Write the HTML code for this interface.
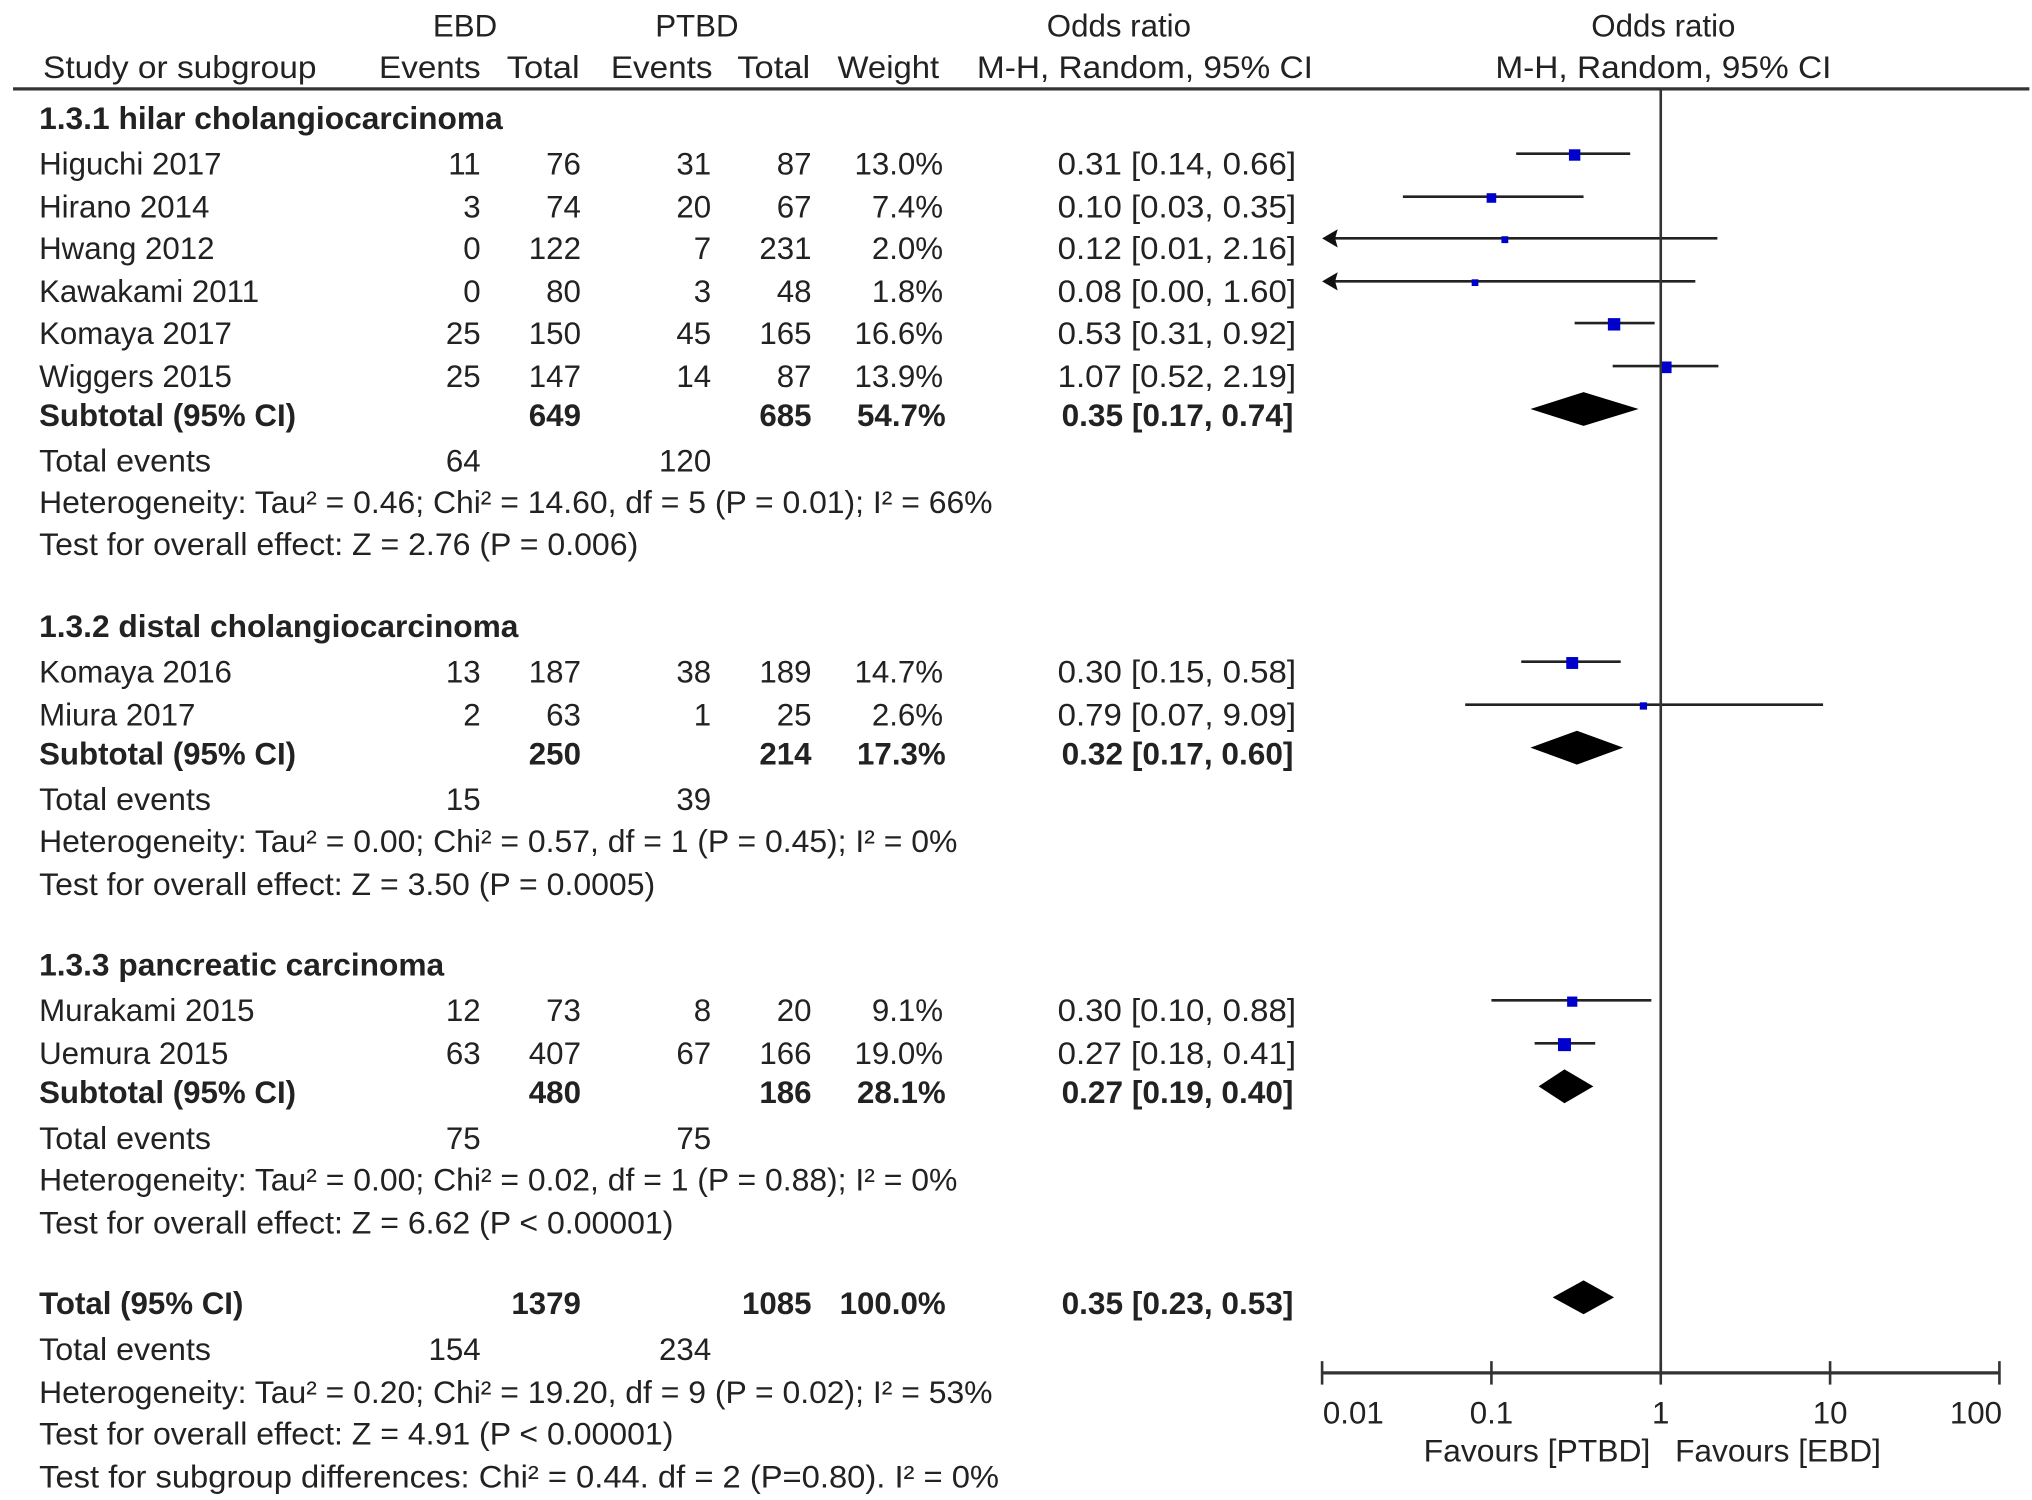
<!DOCTYPE html>
<html><head><meta charset="utf-8"><style>
html,body{margin:0;padding:0;background:#fff;}
svg{display:block;}
text{font-family:"Liberation Sans",Arial,sans-serif;font-size:24px;fill:#222;}
.b{font-weight:bold;}
</style></head><body>
<svg id="chart" width="2032" height="1500" viewBox="0 0 1560 1151.6" xmlns="http://www.w3.org/2000/svg">
<g id="txt"></g><g id="plot"></g>
</svg>
<script>
// ---- data ----
const studyNames=["Higuchi 2017","Hirano 2014","Hwang 2012","Kawakami 2011","Komaya 2017","Wiggers 2015","Komaya 2016","Miura 2017","Murakami 2015","Uemura 2015"];
const ebdEvents=[11,3,0,0,25,25,13,2,12,63];
const ebdTotal=[76,74,122,80,150,147,187,63,73,407];
const ptbdEvents=[31,20,7,3,45,14,38,1,8,67];
const ptbdTotal=[87,67,231,48,165,87,189,25,20,166];
const weights=[13.0,7.4,2.0,1.8,16.6,13.9,14.7,2.6,9.1,19.0];
const orVals=[0.31,0.10,0.12,0.08,0.53,1.07,0.30,0.79,0.30,0.27];
const ciLow=[0.14,0.03,0.01,0.00,0.31,0.52,0.15,0.07,0.10,0.18];
const ciHigh=[0.66,0.35,2.16,1.60,0.92,2.19,0.58,9.09,0.88,0.41];
const subNames=["Subtotal (95% CI)","Subtotal (95% CI)","Subtotal (95% CI)","Total (95% CI)"];
const subEbdTotal=[649,250,480,1379];
const subPtbdTotal=[685,214,186,1085];
const subWeight=["54.7%","17.3%","28.1%","100.0%"];
const subOr=[0.35,0.32,0.27,0.35];
const subLow=[0.17,0.17,0.19,0.23];
const subHigh=[0.74,0.60,0.40,0.53];
const tickVals=[0.01,0.1,1,10,100];
const tickLabels=["0.01","0.1","1","10","100"];
// ---- layout ----
const rowY=[126,159,191,224,256,289,516,549,776,809];
const subY=[319,579,839,1001];
const NS="http://www.w3.org/2000/svg";
const txt=document.getElementById('txt'), plot=document.getElementById('plot');
function T(x,y,s,anchor,bold,len,name){
  const t=document.createElementNS(NS,'text');
  t.setAttribute('x',x);t.setAttribute('y',y+8);
  if(anchor)t.setAttribute('text-anchor',anchor);
  if(bold)t.setAttribute('class','b');
  if(len){t.setAttribute('textLength',len);t.setAttribute('lengthAdjust','spacingAndGlyphs');}
  t.textContent=s;
  
  
  txt.appendChild(t);return t;
}
function E(tag,attrs,name,parent){
  const e=document.createElementNS(NS,tag);
  for(const k in attrs)e.setAttribute(k,attrs[k]);
  
  
  (parent||plot).appendChild(e);return e;
}
const f2=v=>v.toFixed(2);
const ciStr=(o,l,h)=>f2(o)+" ["+f2(l)+", "+f2(h)+"]";
// headers
T(357,20,"EBD","middle",0,0,"header-ebd");
T(535,20,"PTBD","middle",0,0,"header-ptbd");
T(859,20,"Odds ratio","middle",0,0,"header-odds-ratio");
T(1277,20,"Odds ratio","middle",0,0,"header-odds-ratio-plot");
T(33,52,"Study or subgroup","start",0,210,"header-study");
T(330,52,"Events","middle",0,78,"header-ebd-events");
T(417,52,"Total","middle",0,56,"header-ebd-total");
T(508,52,"Events","middle",0,78,"header-ptbd-events");
T(594,52,"Total","middle",0,56,"header-ptbd-total");
T(682,52,"Weight","middle",0,78,"header-weight");
T(879,52,"M-H, Random, 95% CI","middle",0,258,"header-ci");
T(1277,52,"M-H, Random, 95% CI","middle",0,258,"header-ci-plot");
E('rect',{x:10,y:67,width:1548,height:2.5,fill:'#333'},'header-rule');
// group headers and stats
T(30,91,"1.3.1 hilar cholangiocarcinoma","start",1,356,"group-header-hilar");
T(30,481,"1.3.2 distal cholangiocarcinoma","start",1,368,"group-header-distal");
T(30,741,"1.3.3 pancreatic carcinoma","start",1,311,"group-header-pancreatic");
const teY=[354,614,874,1036], teE=[64,15,75,154], teP=[120,39,75,234];
for(let i=0;i<4;i++){T(30,teY[i],"Total events","start",0,132,"total-events-label");T(369,teY[i],String(teE[i]),"end",0,0,"total-events-ebd");T(546,teY[i],String(teP[i]),"end",0,0,"total-events-ptbd");}
T(30,386,"Heterogeneity: Tau² = 0.46; Chi² = 14.60, df = 5 (P = 0.01); I² = 66%","start",0,732,"heterogeneity-hilar");
T(30,418,"Test for overall effect: Z = 2.76 (P = 0.006)","start",0,460,"overall-effect-hilar");
T(30,646,"Heterogeneity: Tau² = 0.00; Chi² = 0.57, df = 1 (P = 0.45); I² = 0%","start",0,705,"heterogeneity-distal");
T(30,679,"Test for overall effect: Z = 3.50 (P = 0.0005)","start",0,473,"overall-effect-distal");
T(30,906,"Heterogeneity: Tau² = 0.00; Chi² = 0.02, df = 1 (P = 0.88); I² = 0%","start",0,705,"heterogeneity-pancreatic");
T(30,939,"Test for overall effect: Z = 6.62 (P < 0.00001)","start",0,487,"overall-effect-pancreatic");
T(30,1069,"Heterogeneity: Tau² = 0.20; Chi² = 19.20, df = 9 (P = 0.02); I² = 53%","start",0,732,"heterogeneity-total");
T(30,1101,"Test for overall effect: Z = 4.91 (P < 0.00001)","start",0,487,"overall-effect-total");
T(30,1134,"Test for subgroup differences: Chi² = 0.44. df = 2 (P=0.80). I² = 0%","start",0,737,"subgroup-differences");
// axis scale
const X0=1275, DEC=130, XMIN=1015, XMAX=1535;
const xs=v=>X0+DEC*Math.log10(v);
// study rows
for(let i=0;i<studyNames.length;i++){
  const y=rowY[i];
  T(30,y,studyNames[i],"start",0,0,"study-name");
  T(369,y,String(ebdEvents[i]),"end",0,0,"ebd-events");
  T(446,y,String(ebdTotal[i]),"end",0,0,"ebd-total");
  T(546,y,String(ptbdEvents[i]),"end",0,0,"ptbd-events");
  T(623,y,String(ptbdTotal[i]),"end",0,0,"ptbd-total");
  T(724,y,weights[i].toFixed(1)+"%","end",0,0,"weight");
  T(995,y,ciStr(orVals[i],ciLow[i],ciHigh[i]),"end",0,183,"odds-ratio-ci");
  const ly=y-8;
  const lo=ciLow[i]>0?xs(ciLow[i]):-1e9;
  const clipped=lo<=XMIN+1;
  const x1=Math.max(lo,XMIN), x2=Math.min(xs(ciHigh[i]),XMAX);
  E('line',{x1:clipped?XMIN+4:x1,y1:ly,x2:x2,y2:ly,stroke:'#222','stroke-width':2},'ci-line');
  if(clipped){E('path',{d:`M${XMIN} ${ly} L${XMIN+12} ${ly-7} L${XMIN+10} ${ly} L${XMIN+12} ${ly+7}Z`,fill:'#111'},'ci-arrow');}
  const s=3+Math.sqrt(weights[i])*1.6;
  E('rect',{x:xs(orVals[i])-s/2,y:ly+1-s/2,width:s,height:s,fill:'#0000cc'},'study-square');
}
// subtotals
for(let i=0;i<4;i++){
  const y=subY[i];
  T(30,y,subNames[i],"start",1,0,i<3?"subtotal-label":"total-label");
  T(446,y,String(subEbdTotal[i]),"end",1,0,"subtotal-ebd-total");
  T(623,y,String(subPtbdTotal[i]),"end",1,0,"subtotal-ptbd-total");
  T(726,y,subWeight[i],"end",1,0,"subtotal-weight");
  T(993,y,ciStr(subOr[i],subLow[i],subHigh[i]),"end",1,178,"subtotal-ci");
  const dy=y-5;
  E('path',{d:`M${xs(subLow[i])} ${dy} L${xs(subOr[i])} ${dy-13} L${xs(subHigh[i])} ${dy} L${xs(subOr[i])} ${dy+13}Z`,fill:'#000'},'pooled-diamond');
}
// null line & axis
E('line',{x1:X0,y1:68,x2:X0,y2:1054,stroke:'#333','stroke-width':2},'null-line');
E('line',{x1:XMIN,y1:1054,x2:XMAX,y2:1054,stroke:'#333','stroke-width':2.5},'x-axis');
for(let i=0;i<tickVals.length;i++){
  E('line',{x1:xs(tickVals[i]),y1:1045,x2:xs(tickVals[i]),y2:1063,stroke:'#333','stroke-width':2},'x-tick');
  T(xs(tickVals[i])+(i==0?24:i==4?-18:0),1085,tickLabels[i],"middle",0,0,"x-tick-label");
}
T(1180,1114,"Favours [PTBD]","middle",0,174,"favours-ptbd");
T(1365,1114,"Favours [EBD]","middle",0,158,"favours-ebd");
</script>
</body></html>
